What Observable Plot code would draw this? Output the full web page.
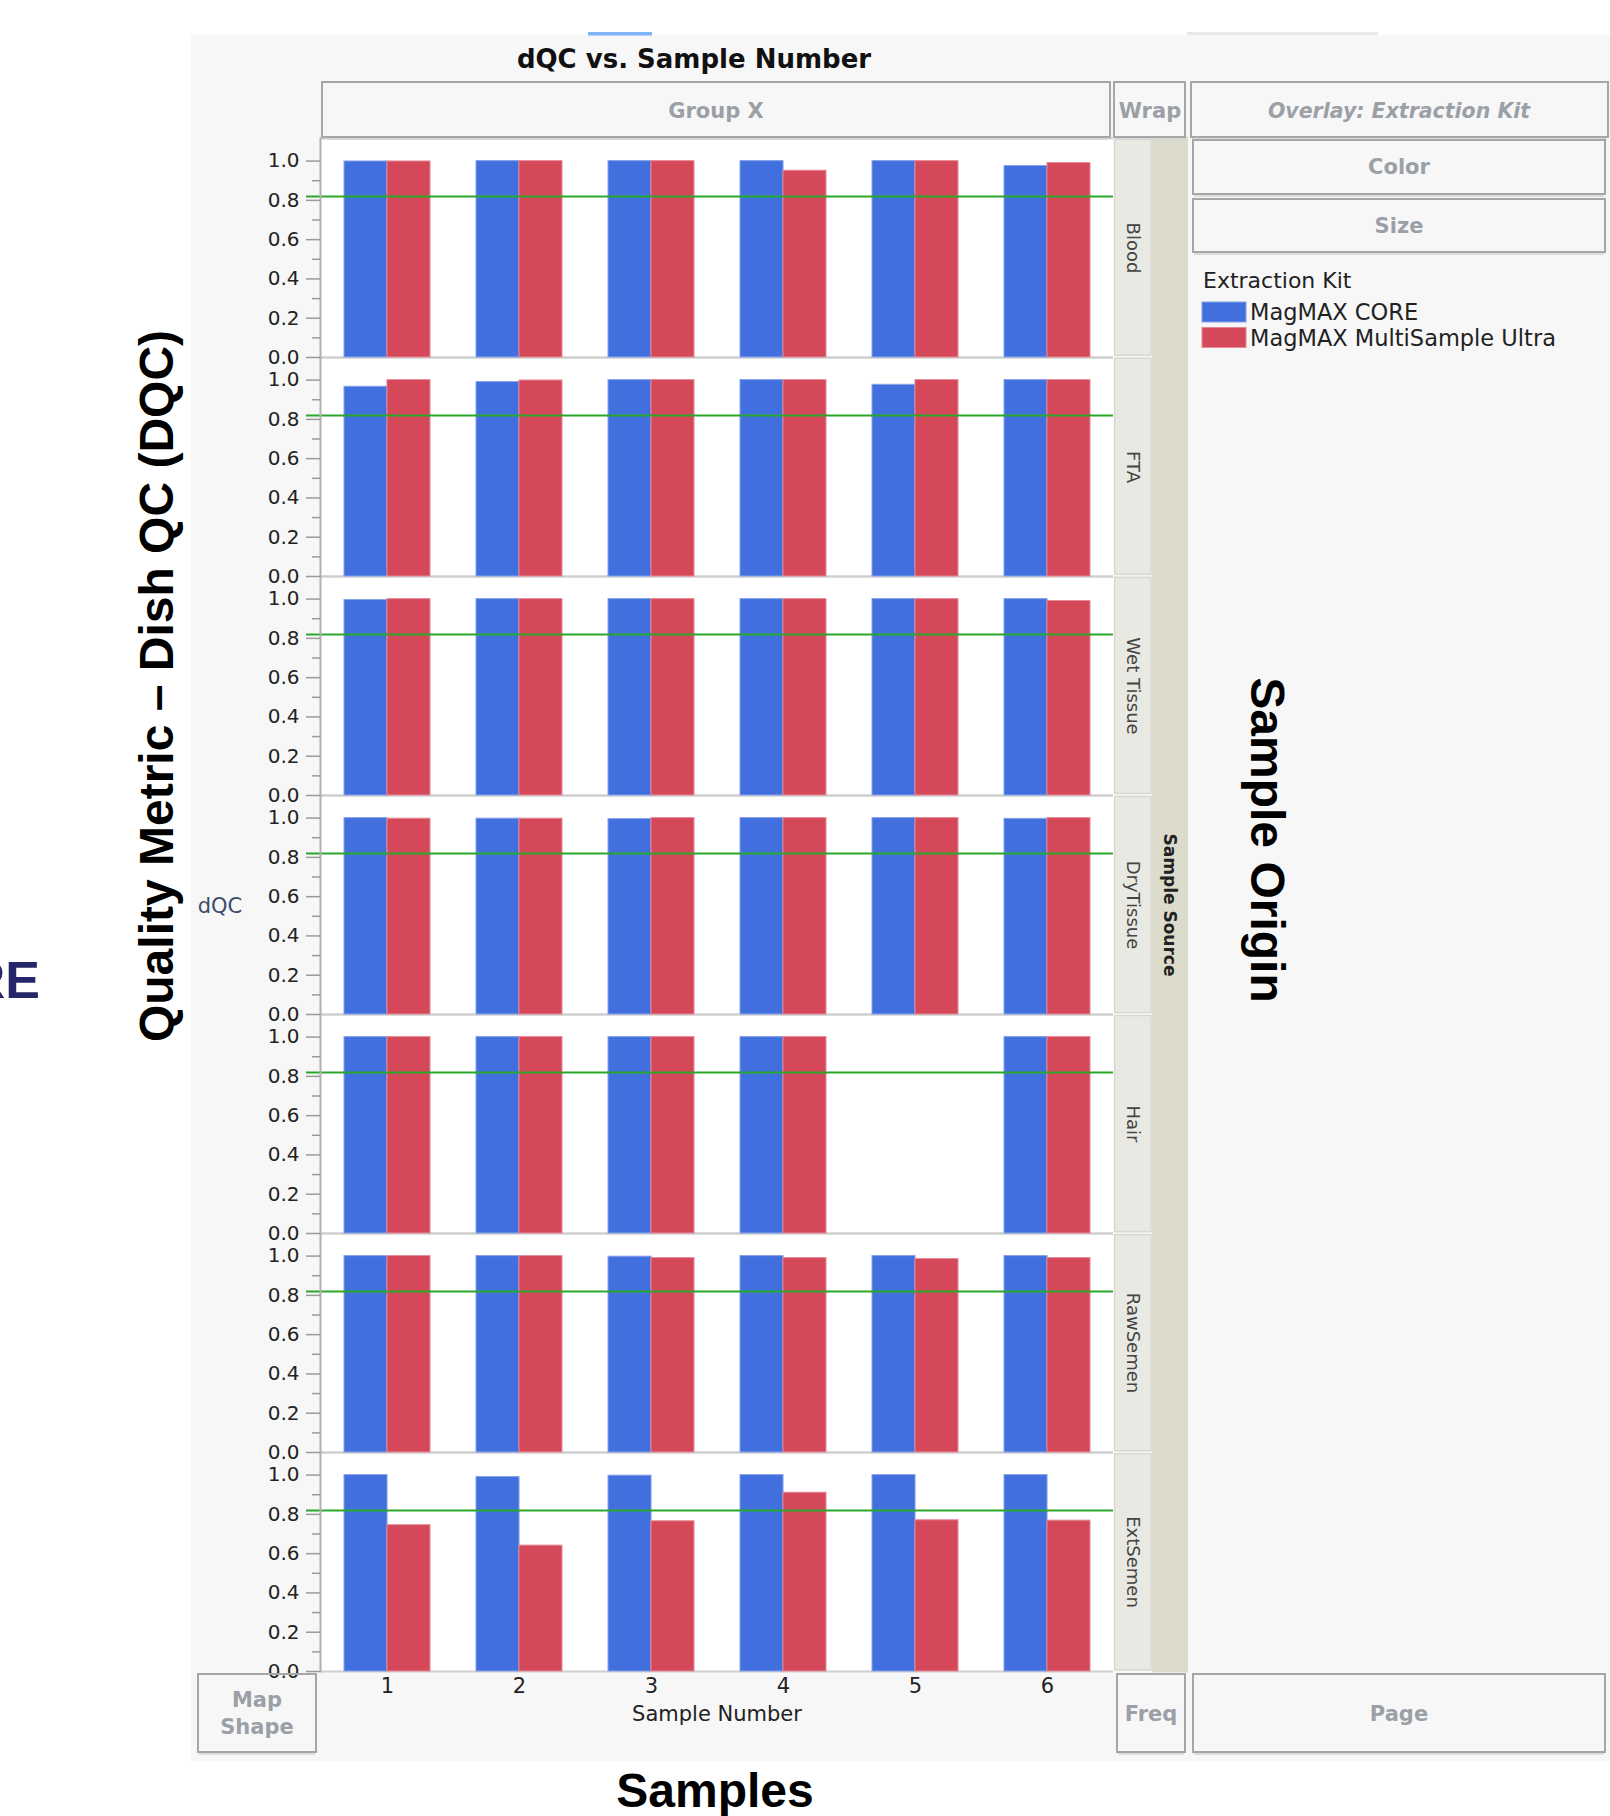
<!DOCTYPE html>
<html><head><meta charset="utf-8">
<script src="https://cdn.jsdelivr.net/npm/d3@7"></script>
<script src="https://cdn.jsdelivr.net/npm/@observablehq/plot@0.6"></script>
<style>
html,body{margin:0;padding:0;background:#fff;}
#wrap{position:relative;width:1610px;height:1816px;overflow:hidden;}
#wrap > svg{position:absolute;left:0;top:0;}
</style></head><body><div id="wrap"></div>
<script>
// ---- data ----
const sources = ["Blood", "FTA", "Wet Tissue", "DryTissue", "Hair", "RawSemen", "ExtSemen"];
const samples = [1, 2, 3, 4, 5, 6];
const kits = ["MagMAX CORE", "MagMAX MultiSample Ultra"];
const kitColors = ["#4170de", "#d4485a"];
const kitStrokes = ["#86a2ec", "#e68a97"];
const majorTicks = [0, 0.2, 0.4, 0.6, 0.8, 1.0];
const minorTicks = [0.1, 0.3, 0.5, 0.7, 0.9];
const threshold = 0.82;

const coreBlood     = [0.998, 1.0, 1.0, 1.0, 1.0, 0.975];
const ultraBlood    = [0.998, 1.0, 1.0, 0.951, 1.0, 0.99];
const coreFTA       = [0.966, 0.99, 1.0, 1.0, 0.976, 1.0];
const ultraFTA      = [1.0, 0.998, 1.0, 1.0, 1.0, 1.0];
const coreWet       = [0.995, 1.0, 1.0, 1.0, 1.0, 1.0];
const ultraWet      = [1.0, 1.0, 1.0, 1.0, 1.0, 0.99];
const coreDry       = [1.0, 0.997, 0.995, 1.0, 1.0, 0.996];
const ultraDry      = [0.997, 0.997, 1.0, 1.0, 1.0, 1.0];
const coreHair      = [1.0, 1.0, 1.0, 1.0, null, 1.0];
const ultraHair     = [1.0, 1.0, 1.0, 1.0, null, 1.0];
const coreRaw       = [1.0, 1.0, 0.997, 1.0, 1.0, 1.0];
const ultraRaw      = [1.0, 1.0, 0.99, 0.99, 0.985, 0.99];
const coreExt       = [1.0, 0.99, 0.997, 1.0, 1.0, 1.0];
const ultraExt      = [0.745, 0.641, 0.765, 0.91, 0.77, 0.768];

const coreBySource  = [coreBlood, coreFTA, coreWet, coreDry, coreHair, coreRaw, coreExt];
const ultraBySource = [ultraBlood, ultraFTA, ultraWet, ultraDry, ultraHair, ultraRaw, ultraExt];

const rows = [];
sources.forEach((s, i) => samples.forEach((n, j) => {
  [coreBySource, ultraBySource].forEach((arr, k) => {
    const v = arr[i][j];
    if (v != null) rows.push({source: s, sample: n, kit: kits[k], dqc: v});
  });
}));

// ---- layout ----
const W = 1610, H = 1816;
const mL = 320, mR = 497, mT = 137.6, mB = 144.6;
const padInner = 0.35;
const step = (W - mL - mR) / samples.length;
const half = step * (1 - padInner) / 2;
const yMax = 1.115;
const panelH = (H - mT - mB) / sources.length;
const FONT = "DejaVu Sans, Verdana, sans-serif";
const BIG = "Liberation Sans, Arial, Helvetica, sans-serif";

const wrap = d3.select("#wrap");

// underlay: JMP window background and facet strips
const under = wrap.append("svg").attr("width", W).attr("height", H);
under.append("rect").attr("x", 191).attr("y", 35).attr("width", W - 191).attr("height", 1726).attr("fill", "#f7f7f7");
under.append("rect").attr("x", 588).attr("y", 32).attr("width", 64).attr("height", 3.5).attr("fill", "#7fb2f7");
under.append("rect").attr("x", 1187).attr("y", 32).attr("width", 191).attr("height", 3).attr("fill", "#e8e8e8");
sources.forEach((s, i) => {
  under.append("rect").attr("x", 1114.5).attr("y", mT + i * panelH + 1.5)
    .attr("width", 36.5).attr("height", panelH - 3)
    .attr("fill", "#e9e9e3").attr("stroke", "#d8d8d0").attr("stroke-width", 1.5);
});
under.append("rect").attr("x", 1152).attr("y", mT - 1).attr("width", 36).attr("height", H - mT - mB + 2).attr("fill", "#dcdbcc");

// ---- chart ----
const chart = Plot.plot({
  width: W, height: H,
  marginLeft: mL, marginRight: mR, marginTop: mT, marginBottom: mB,
  style: {background: "transparent", fontFamily: FONT, fontSize: "20px", overflow: "visible"},
  x: {type: "band", domain: samples, paddingInner: padInner, paddingOuter: padInner / 2},
  y: {domain: [0, yMax]},
  fy: {domain: sources, padding: 0, axis: null},
  marks: [
    Plot.frame({fill: "white", stroke: "none"}),
    Plot.ruleY([0, yMax], {stroke: "#cfcfcf", strokeWidth: 2}),
    Plot.barY(rows.filter(d => d.kit === kits[0]), {x: "sample", y: "dqc", fy: "source", fill: kitColors[0], stroke: kitStrokes[0], strokeWidth: 1, insetRight: half}),
    Plot.barY(rows.filter(d => d.kit === kits[1]), {x: "sample", y: "dqc", fy: "source", fill: kitColors[1], stroke: kitStrokes[1], strokeWidth: 1, insetLeft: half}),
    Plot.ruleY([threshold], {stroke: "#2aa82a", strokeWidth: 2, insetLeft: -14}),
    Plot.frame({anchor: "left", stroke: "#b0b0b0", strokeWidth: 2}),
    Plot.axisY(majorTicks, {tickFormat: d => d.toFixed(1), tickSize: 14, tickPadding: 7, stroke: "#9a9a9a", strokeWidth: 1.5, fill: "#222", label: null, fontSize: 20}),
    Plot.axisY(minorTicks, {tickFormat: () => "", tickSize: 8, stroke: "#9a9a9a", strokeWidth: 1.5, label: null}),
    Plot.axisX({tickSize: 0, tickPadding: 7, fill: "#222", fontSize: 21, label: "Sample Number", labelAnchor: "center", labelOffset: 49}),
    Plot.text(sources, {fy: d => d, text: d => d, frameAnchor: "right", textAnchor: "middle", lineAnchor: "middle", dx: 19.5, rotate: 90, fontSize: 18, fill: "#444"})
  ]
});
chart.style.position = "absolute";
chart.style.left = "0px";
chart.style.top = "0px";
document.getElementById("wrap").appendChild(chart);

// ---- overlay: JMP drop zones, titles, legend ----
const ov = wrap.append("svg").attr("width", W).attr("height", H).style("pointer-events", "none");
function box(x, y, w, h) {
  ov.append("rect").attr("x", x).attr("y", y).attr("width", w).attr("height", h)
    .attr("fill", "none").attr("stroke", "#a6a6a6").attr("stroke-width", 2);
  ov.append("line").attr("x1", x + 1).attr("x2", x + w - 1).attr("y1", y + h + 2).attr("y2", y + h + 2)
    .attr("stroke", "#d4d4d4").attr("stroke-width", 1.5);
}
function label(x, y, t, opts = {}) {
  const el = ov.append("text").attr("x", x).attr("y", y).attr("text-anchor", opts.anchor || "middle")
    .attr("font-family", opts.family || FONT).attr("font-size", opts.size || 21)
    .attr("font-weight", opts.weight || "bold").attr("fill", opts.fill || "#9ba0a7")
    .attr("font-style", opts.style || "normal").text(t);
  if (opts.transform) el.attr("transform", opts.transform).attr("x", 0).attr("y", 0);
  return el;
}
box(322, 82, 788, 55);   label(716, 118, "Group X");
box(1114, 82, 71, 55);   label(1150, 118, "Wrap");
box(1191, 82, 417, 55);  label(1399, 118, "Overlay: Extraction Kit", {style: "italic", size: 20.5});
box(1193, 140, 412, 54); label(1399, 174, "Color");
box(1193, 199, 412, 53); label(1399, 233, "Size");
box(198, 1674, 118, 78); label(257, 1707, "Map"); label(257, 1734, "Shape");
box(1117, 1674, 68, 78); label(1151, 1721, "Freq");
box(1193, 1674, 412, 78); label(1399, 1721, "Page");

label(694, 68, "dQC vs. Sample Number", {size: 26, fill: "#111"});

// legend
label(1203, 288, "Extraction Kit", {anchor: "start", weight: "normal", size: 22, fill: "#222"});
kits.forEach((k, i) => {
  ov.append("rect").attr("x", 1202).attr("y", 302 + i * 25.5).attr("width", 44).attr("height", 20)
    .attr("fill", kitColors[i]).attr("stroke", kitStrokes[i]).attr("stroke-width", 1);
  label(1250, 320 + i * 25.5, k, {anchor: "start", weight: "normal", size: 22.5, fill: "#222"});
});

label(220, 913, "dQC", {weight: "normal", size: 21, fill: "#3b4b6b"});
label(0, 0, "Sample Source", {size: 17, fill: "#222", transform: "translate(1164,905) rotate(90)"});

// slide annotations
label(0, 0, "Quality Metric \u2013 Dish QC (DQC)", {family: BIG, size: 48, fill: "#000", transform: "translate(173,686) rotate(-90)"});
label(0, 0, "Sample Origin", {family: BIG, size: 48, fill: "#000", transform: "translate(1251,840) rotate(90)"});
label(715, 1807, "Samples", {family: BIG, size: 48, fill: "#000"});
label(40, 998, "RE", {family: BIG, size: 52, fill: "#26266a", anchor: "end"});
</script></body></html>
